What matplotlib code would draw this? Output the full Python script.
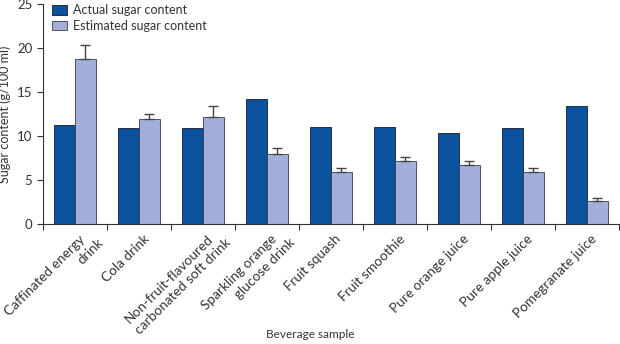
import matplotlib.pyplot as plt
import matplotlib.transforms as mtransforms
import numpy as np

plt.rcParams['font.family'] = ['Lato', 'DejaVu Sans']

# beverage samples and sugar values (g/100 ml)
beverages = ['Caffinated energy\ndrink', 'Cola drink', 'Non-fruit-flavoured\ncarbonated soft drink',
             'Sparkling orange\nglucose drink', 'Fruit squash', 'Fruit smoothie',
             'Pure orange juice', 'Pure apple juice', 'Pomegranate juice']
actual = [11.3, 10.9, 10.9, 14.2, 11.0, 11.0, 10.35, 10.9, 13.45]
estimated = [18.8, 11.9, 12.2, 7.9, 5.9, 7.2, 6.75, 5.95, 2.6]
estimated_err = [1.5, 0.55, 1.2, 0.75, 0.5, 0.45, 0.4, 0.45, 0.3]
yticks = [0, 5, 10, 15, 20, 25]

dark = '#0b529e'
light = '#a2afd8'
txt = '#333333'

fig = plt.figure(figsize=(6.2, 3.44), dpi=100)
ax = fig.add_axes([0.069, 0.349, 0.929, 0.639])

x = np.arange(len(beverages))
w = 0.33
ax.bar(x - w / 2, actual, w, color=dark, edgecolor='#1a1a2a', linewidth=0.6,
       label='Actual sugar content')
ax.bar(x + w / 2, estimated, w, color=light, edgecolor='#3a3a4a', linewidth=0.6,
       label='Estimated sugar content',
       yerr=[np.zeros(len(estimated)), estimated_err], capsize=3.5,
       error_kw=dict(ecolor='#444444', elinewidth=1, capthick=1))

ax.set_xlim(-0.5, len(beverages) - 0.5)
ax.set_ylim(0, 25)
ax.set_yticks(yticks)
# ticks sit on the group boundaries, names are drawn under the group centres
ax.set_xticks(np.arange(len(beverages) + 1) - 0.5)
ax.set_xticklabels([])
ax.tick_params(axis='both', which='major', direction='out', length=4,
               color=txt, labelsize=9.5, labelcolor=txt)

# each line of a name is placed on its own, the second one slid along to the right
base = ax.get_xaxis_transform()
for i, name in enumerate(beverages):
    for j, line in enumerate(name.split('\n')):
        off = mtransforms.ScaledTranslation((4 + 18 * j) / 100, (-9 - 3 * j) / 100,
                                            fig.dpi_scale_trans)
        ax.text(x[i], 0, line, transform=base + off, rotation=45, ha='right', va='top',
                rotation_mode='anchor', fontsize=9.8, color=txt, clip_on=False)

for s in ['top', 'right']:
    ax.spines[s].set_visible(False)
for s in ['left', 'bottom']:
    ax.spines[s].set_color(txt)

ax.set_ylabel('Sugar content (g/100 ml)', fontsize=9, color=txt)
fig.text(0.5, 0.027, 'Beverage sample', ha='center', va='center', fontsize=8.5, color=txt)

ax.legend(loc='upper left', bbox_to_anchor=(-0.004, 1.05), frameon=False,
          fontsize=9, handlelength=1.25, handleheight=0.75, labelspacing=0.3,
          handletextpad=0.45, labelcolor=txt)

fig.savefig('out.png', dpi=100)
